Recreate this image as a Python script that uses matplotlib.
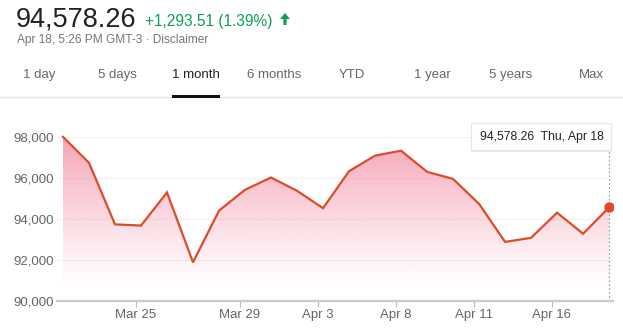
import matplotlib
matplotlib.use("Agg")
import matplotlib.pyplot as plt
import numpy as np
from matplotlib.patches import Rectangle, FancyBboxPatch, Polygon
from matplotlib.lines import Line2D

plt.rcParams['font.family'] = ['Liberation Sans', 'DejaVu Sans']

# ---- data ----
dates = ["Mar 20", "Mar 21", "Mar 22", "Mar 25", "Mar 26", "Mar 27", "Mar 28", "Mar 29",
         "Apr 1", "Apr 2", "Apr 3", "Apr 4", "Apr 5", "Apr 8", "Apr 9", "Apr 10",
         "Apr 11", "Apr 12", "Apr 15", "Apr 16", "Apr 17", "Apr 18"]
values = [98030, 96760, 93750, 93690, 95310, 91890, 94420, 95440,
          96040, 95390, 94540, 96350, 97110, 97350, 96320, 95970,
          94750, 92890, 93090, 94320, 93290, 94578.26]
tick_labels = ["Mar 25", "Mar 29", "Apr 3", "Apr 8", "Apr 11", "Apr 16"]
y_ticks = [90000, 92000, 94000, 96000, 98000]
tabs = ["1 day", "5 days", "1 month", "6 months", "YTD", "1 year", "5 years", "Max"]
active_tab = "1 month"
price_text = "94,578.26"
change_text = "+1,293.51 (1.39%)"
sub_text = "Apr 18, 5:26 PM GMT-3 \u00b7 Disclaimer"
tooltip_text = "94,578.26  Thu, Apr 18"

W, H = 623, 333
fig = plt.figure(figsize=(W / 100, H / 100), dpi=100)
fig.patch.set_facecolor('white')

def fx(px):
    return px / W

def fy(py):
    return 1 - py / H

# ---- axes ----
ax_l, ax_r, ax_t, ax_b = 57, 613, 117, 301
ax = fig.add_axes([fx(ax_l), fy(ax_b), fx(ax_r - ax_l), (ax_b - ax_t) / H])
x = np.arange(len(values))
ymin, ymax = 90000, 99000
ax.set_xlim(-0.23, len(values) - 1 + 0.15)
ax.set_ylim(ymin, ymax)

line_color = '#dc4c2a'
# gradient fill
grad = np.linspace(0, 1, 256).reshape(-1, 1)
rgba = np.zeros((256, 1, 4))
rgba[..., 0] = 238 / 255
rgba[..., 1] = 105 / 255
rgba[..., 2] = 135 / 255
vals_grid = ymin + grad * (ymax - ymin)
alpha = np.clip((vals_grid - 90500) / (98000 - 90500), 0, 1) ** 1.2 * 0.6
rgba[..., 3] = alpha
im = ax.imshow(rgba, extent=[x[0], x[-1], ymin, ymax], origin='lower', aspect='auto', zorder=1)
verts = np.vstack([np.column_stack([x, values]), [[x[-1], ymin], [x[0], ymin]]])
clip = Polygon(verts, closed=True, transform=ax.transData, facecolor='none', edgecolor='none')
ax.add_patch(clip)
im.set_clip_path(clip)

ax.plot(x, values, color=line_color, lw=1.6, zorder=3, solid_joinstyle='miter')
ax.plot([x[-1]], [values[-1]], 'o', color=line_color, ms=6.5, zorder=4)

# dotted vertical line from tooltip bottom to axis
tip_bottom_px = 150
top_val = ymin + (ax_b - tip_bottom_px) / (ax_b - ax_t) * (ymax - ymin)
ax.plot([x[-1], x[-1]], [ymin, top_val], color='#999999', lw=0.8, ls=(0, (1.5, 2)), zorder=2)

ax.set_yticks(y_ticks)
ax.set_yticklabels([f"{v:,}" for v in y_ticks])
for v in y_ticks[1:]:
    ax.axhline(v, color='#f3f3f3', lw=0.8, zorder=0)

tick_pos = [dates.index(t) - 0.2 for t in tick_labels]
ax.set_xticks(tick_pos)
ax.set_xticklabels(tick_labels)

for s in ['top', 'right', 'left']:
    ax.spines[s].set_visible(False)
ax.spines['bottom'].set_color('#cccccc')
ax.spines['bottom'].set_linewidth(1.6)
ax.tick_params(axis='y', length=0, pad=2, labelsize=9.5, labelcolor='#666666')
ax.tick_params(axis='x', length=4, width=0.8, color='#bbbbbb', pad=2, labelsize=9.5, labelcolor='#666666')

# ---- header ----
fig.text(fx(16), fy(27), price_text, fontsize=19.5, color='#222222', va='baseline')
green = '#0f9d58'
fig.text(fx(145), fy(26), change_text, fontsize=11.2, color=green, va='baseline')
# up arrow glyph (filled)
ax0 = 285
arrow = Polygon([(fx(ax0), fy(13)), (fx(ax0 - 5), fy(19)), (fx(ax0 - 1.6), fy(19)),
                 (fx(ax0 - 1.6), fy(25)), (fx(ax0 + 1.6), fy(25)), (fx(ax0 + 1.6), fy(19)),
                 (fx(ax0 + 5), fy(19))], closed=True, transform=fig.transFigure,
                facecolor=green, edgecolor='none')
fig.add_artist(arrow)
fig.text(fx(17), fy(43), sub_text, fontsize=8.6, color='#777777', va='baseline')

tab_centers = [39, 117, 196, 274, 352, 432, 511, 591]
for t, cx in zip(tabs, tab_centers):
    fig.text(fx(cx), fy(78), t, fontsize=9.5, ha='center', va='baseline',
             color='#222222' if t == active_tab else '#666666')
sep = Line2D([0, 1], [fy(96.5), fy(96.5)], transform=fig.transFigure, color='#e5e5e5', lw=1)
sep.set_zorder(1)
fig.add_artist(sep)
ul = Rectangle((fx(172), fy(98.5)), fx(48), 3 / H, transform=fig.transFigure,
               facecolor='#111111', edgecolor='none')
ul.set_zorder(5)
fig.add_artist(ul)

# ---- tooltip ----
shadow = FancyBboxPatch((fx(472), fy(151.5)), fx(140), 27 / H, boxstyle='square,pad=0',
                        transform=fig.transFigure, facecolor='#dddddd', edgecolor='none', alpha=0.6)
fig.add_artist(shadow)
box = FancyBboxPatch((fx(471), fy(150)), fx(140), 27 / H, boxstyle='square,pad=0',
                     transform=fig.transFigure, facecolor='white', edgecolor='#e6e6e6', lw=0.8)
fig.add_artist(box)
fig.text(fx(480), fy(137), tooltip_text, fontsize=8.8, color='#222222', va='center')

fig.savefig('out.png', dpi=100, facecolor='white')
